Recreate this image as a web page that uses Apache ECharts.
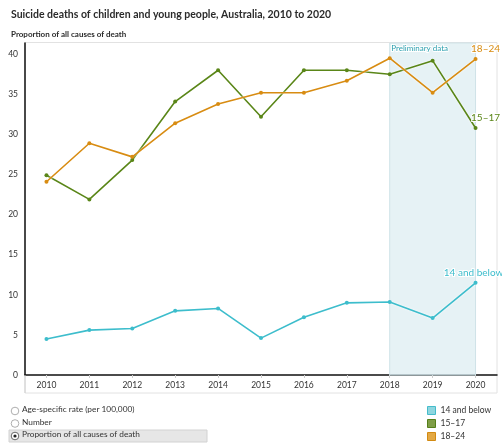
<!DOCTYPE html>
<html><head><meta charset="utf-8">
<script src="https://cdn.jsdelivr.net/npm/echarts@6/dist/echarts.min.js"></script>
<style>html,body{margin:0;padding:0;background:#fff}#c{width:502px;height:446px}</style>
</head><body><div id="c"></div>
<script>
const years = ['2010','2011','2012','2013','2014','2015','2016','2017','2018','2019','2020'];
const under14 = [4.5, 5.6, 5.8, 8.0, 8.3, 4.6, 7.2, 9.0, 9.1, 7.1, 11.5];
const age15to17 = [24.9, 21.9, 26.8, 34.1, 38.0, 32.2, 38.0, 38.0, 37.5, 39.2, 30.8];
const age18to24 = [24.1, 28.9, 27.2, 31.4, 33.8, 35.2, 35.2, 36.7, 39.5, 35.2, 39.4];
const seriesNames = ['14 and below', '15–17', '18–24'];
const yTicks = [0, 5, 10, 15, 20, 25, 30, 35, 40];

const FONT = 'Lato';
const colTeal = '#3dbdcc', colGreen = '#5a8618', colOrange = '#d88c12';

function withEndLabel(arr, color, offset) {
  return arr.map((v, i) => i === arr.length - 1 ? {
    value: v,
    label: { show: true, position: 'top', distance: 3, offset: offset,
      formatter: '{a}', color: color, fontSize: 10, fontFamily: FONT,
      textBorderColor: '#fff', textBorderWidth: 2 }
  } : v);
}

const chart = echarts.init(document.getElementById('c'), null, {renderer: 'canvas'});
const lineCommon = { type: 'line', symbol: 'circle', symbolSize: 4, z: 3,
  lineStyle: { width: 1.6, shadowColor: '#fff', shadowBlur: 2 } };

chart.setOption({
  animation: false,
  textStyle: { fontFamily: FONT },
  title: [
    { text: 'Suicide deaths of children and young people, Australia, 2010 to 2020', left: 6, top: 4,
      textStyle: { fontSize: 10.5, fontWeight: 'bold', color: '#2b2b2b', fontFamily: FONT } },
    { text: 'Proportion of all causes of death', left: 6, top: 25,
      textStyle: { fontSize: 8, fontWeight: 'bold', color: '#2b2b2b', fontFamily: FONT } }
  ],
  grid: { left: 25, right: 5, top: 43, bottom: 71, containLabel: false },
  legend: {
    orient: 'vertical', left: 427, top: 405, itemWidth: 8, itemHeight: 8, itemGap: 2,
    icon: 'rect', padding: 0,
    data: [
      { name: seriesNames[0], itemStyle: { color: '#8fd6df', borderColor: '#45bccb', borderWidth: 1 } },
      { name: seriesNames[1], itemStyle: { color: '#7f9e47', borderColor: '#557f1a', borderWidth: 1 } },
      { name: seriesNames[2], itemStyle: { color: '#e3a843', borderColor: '#d28a12', borderWidth: 1 } }
    ],
    textStyle: { fontSize: 8.5, color: '#333', fontFamily: FONT, lineHeight: 11 }
  },
  xAxis: {
    type: 'category', data: years, boundaryGap: true,
    axisLine: { lineStyle: { color: '#111', width: 1.5 } },
    axisTick: { show: true, alignWithLabel: true, length: 3, lineStyle: { color: '#ccc' } },
    axisLabel: { fontSize: 8.5, color: '#333', margin: 6, fontFamily: FONT }
  },
  yAxis: {
    type: 'value', min: 0, max: 41.4, interval: 5,
    axisLine: { show: true, lineStyle: { color: '#111', width: 1.5 } },
    axisTick: { show: false }, splitLine: { show: false },
    axisLabel: { fontSize: 8.5, color: '#333', margin: 7, fontFamily: FONT, showMaxLabel: false,
      formatter: v => yTicks.indexOf(v) >= 0 ? String(v) : '' }
  },
  series: [
    Object.assign({}, lineCommon, { name: seriesNames[0], data: withEndLabel(under14, colTeal, [-2, 0]),
      itemStyle: { color: colTeal }, color: colTeal,
      markArea: { silent: true, itemStyle: { color: 'rgba(214,234,238,0.6)', borderColor: '#cfe3e8', borderWidth: 1 },
        label: { show: true, position: 'insideTopLeft', distance: 2, color: '#2a9fae', fontSize: 8,
          fontFamily: FONT, textBorderColor: '#fff', textBorderWidth: 2 },
        data: [[{ name: 'Preliminary data', xAxis: '2018' }, { xAxis: '2020' }]] } }),
    Object.assign({}, lineCommon, { name: seriesNames[1], data: withEndLabel(age15to17, colGreen, [10, 0]),
      itemStyle: { color: colGreen }, color: colGreen }),
    Object.assign({}, lineCommon, { name: seriesNames[2], data: withEndLabel(age18to24, colOrange, [10, 0]),
      itemStyle: { color: colOrange }, color: colOrange })
  ],
  graphic: [
    { type: 'rect', z: -1, shape: { x: 25, y: 42.5, width: 472, height: 350.5 }, style: { fill: 'none', stroke: '#e2e2e2', lineWidth: 1 } },
    { type: 'line', z: 5, shape: { x1: 25, y1: 375, x2: 25, y2: 393 }, style: { stroke: '#cfcfcf', lineWidth: 1 } },
    { type: 'rect', shape: { x: 9, y: 430, width: 198, height: 12 }, style: { fill: '#e6e6e6', stroke: '#d2d2d2', lineWidth: 1 } },
    { type: 'circle', shape: { cx: 15, cy: 411, r: 3.8 }, style: { fill: '#fff', stroke: '#9a9a9a', lineWidth: 0.8 } },
    { type: 'circle', shape: { cx: 15, cy: 423.5, r: 3.8 }, style: { fill: '#fff', stroke: '#9a9a9a', lineWidth: 0.8 } },
    { type: 'circle', shape: { cx: 15, cy: 436, r: 3.8 }, style: { fill: '#fff', stroke: '#444', lineWidth: 0.8 } },
    { type: 'circle', shape: { cx: 15, cy: 436, r: 1.6 }, style: { fill: '#222' } },
    { type: 'text', left: 22, top: 405.5, style: { text: 'Age-specific rate (per 100,000)', fill: '#333', fontSize: 8.3, fontFamily: FONT } },
    { type: 'text', left: 22, top: 418, style: { text: 'Number', fill: '#333', fontSize: 8.3, fontFamily: FONT } },
    { type: 'text', left: 22, top: 430.5, style: { text: 'Proportion of all causes of death', fill: '#333', fontSize: 8.3, fontFamily: FONT } }
  ]
});
</script></body></html>
